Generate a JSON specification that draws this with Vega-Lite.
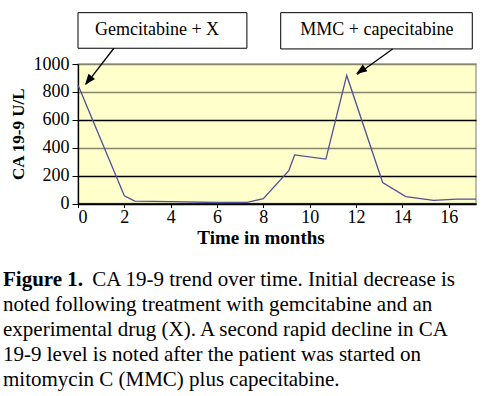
{
  "$schema": "https://vega.github.io/schema/vega-lite/v6.json",
  "width": 398,
  "height": 139.5,
  "autosize": {"type": "none"},
  "padding": {"left": 78, "top": 64, "right": 16, "bottom": 192.5},
  "background": "white",
  "config": {
    "font": "Liberation Serif",
    "view": {"fill": "#FFFFCC", "stroke": "#a6a6a6", "strokeWidth": 1.5}
  },
  "title": {
    "text": "Figure 1.",
    "subtitle": [
      "\u200b\u00a0\u00a0\u00a0\u00a0\u00a0\u00a0\u00a0\u00a0\u00a0\u00a0\u00a0\u00a0\u00a0\u00a0\u00a0\u00a0\u00a0CA 19-9 trend over time. Initial decrease is",
      "noted following treatment with gemcitabine and an",
      "experimental drug (X). A second rapid decline in CA",
      "19-9 level is noted after the patient was started on",
      "mitomycin C (MMC) plus capecitabine."
    ],
    "orient": "bottom",
    "anchor": "start",
    "frame": "group",
    "dx": -75,
    "offset": 21,
    "font": "Liberation Serif",
    "fontSize": 21,
    "fontWeight": "bold",
    "color": "black",
    "subtitleFont": "Liberation Serif",
    "subtitleFontSize": 21,
    "subtitleFontWeight": "normal",
    "subtitleColor": "black",
    "subtitleLineHeight": 25,
    "subtitlePadding": -21
  },
  "layer": [
    {
      "data": {"values": [
        {"month": 0, "ca199": 850},
        {"month": 2, "ca199": 55},
        {"month": 2.45, "ca199": 17},
        {"month": 4, "ca199": 13},
        {"month": 6, "ca199": 7},
        {"month": 7.3, "ca199": 8},
        {"month": 8, "ca199": 35},
        {"month": 9.1, "ca199": 235},
        {"month": 9.35, "ca199": 348},
        {"month": 10.7, "ca199": 318},
        {"month": 11.6, "ca199": 918},
        {"month": 13.15, "ca199": 150},
        {"month": 14.15, "ca199": 50},
        {"month": 15.35, "ca199": 22},
        {"month": 16.35, "ca199": 32},
        {"month": 17.18, "ca199": 32}
      ]},
      "mark": {"type": "line", "color": "#50509a", "strokeWidth": 1.3},
      "encoding": {
        "x": {
          "field": "month", "type": "quantitative",
          "scale": {"domain": [0, 17.18], "nice": false, "zero": false},
          "axis": {
            "values": [0, 2, 4, 6, 8, 10, 12, 14, 16],
            "tickCount": 20,
            "grid": false,
            "labelOverlap": false,
            "domainColor": "black", "domainWidth": 1.3,
            "tickColor": "black", "tickSize": 4,
            "labelFont": "Liberation Serif", "labelFontSize": 18, "labelColor": "black", "labelPadding": 1,
            "title": "Time in months",
            "titleFont": "Liberation Serif", "titleFontSize": 19, "titleFontWeight": "bold", "titleColor": "black",
            "titleX": 182.5, "titlePadding": 2
          }
        },
        "y": {
          "field": "ca199", "type": "quantitative",
          "scale": {"domain": [0, 1000], "nice": false},
          "axis": {
            "values": [0, 200, 400, 600, 800, 1000],
            "tickCount": 20,
            "format": "d",
            "grid": true,
            "labelOverlap": false,
            "gridColor": {"condition": {"test": "datum.value === 200 || datum.value === 600 || datum.value === 0", "value": "black"}, "value": "#85856a"},
            "gridWidth": 1.3,
            "domainColor": "black", "domainWidth": 1.3,
            "tickColor": "black", "tickSize": 6,
            "labelFont": "Liberation Serif", "labelFontSize": 18, "labelColor": "black", "labelPadding": 3,
            "title": "CA 19-9 U/L",
            "titleFont": "Liberation Serif", "titleFontSize": 17, "titleFontWeight": "bold", "titleColor": "black",
            "titlePadding": 6
          }
        }
      }
    },
    {
      "data": {"values": [
        {"month": 0, "month2": 7.29, "ca199": 1113, "ca2": 1368},
        {"month": 8.75, "month2": 17.02, "ca199": 1108, "ca2": 1368}
      ]},
      "mark": {"type": "rect", "fill": "white", "stroke": "black", "strokeWidth": 1},
      "encoding": {
        "x": {"field": "month", "type": "quantitative"},
        "x2": {"field": "month2"},
        "y": {"field": "ca199", "type": "quantitative"},
        "y2": {"field": "ca2"}
      }
    },
    {
      "data": {"values": [
        {"month": 3.41, "ca199": 1244, "label": "Gemcitabine + X"},
        {"month": 12.9, "ca199": 1244, "label": "MMC + capecitabine"}
      ]},
      "mark": {"type": "text", "font": "Liberation Serif", "fontSize": 18, "color": "black", "align": "center", "baseline": "middle"},
      "encoding": {
        "x": {"field": "month", "type": "quantitative"},
        "y": {"field": "ca199", "type": "quantitative"},
        "text": {"field": "label"}
      }
    },
    {
      "data": {"values": [
        {"month": 1.55, "ca199": 1113, "month2": 0.35, "ca2": 855},
        {"month": 13.58, "ca199": 1108, "month2": 12.05, "ca2": 925}
      ]},
      "mark": {"type": "rule", "color": "black", "strokeWidth": 1.3},
      "encoding": {
        "x": {"field": "month", "type": "quantitative"},
        "x2": {"field": "month2"},
        "y": {"field": "ca199", "type": "quantitative"},
        "y2": {"field": "ca2"}
      }
    },
    {
      "data": {"values": [{"month": 0.3, "ca199": 849}]},
      "mark": {"type": "point", "shape": "M0,0L-0.75,2L0.75,2Z", "filled": true, "color": "black", "opacity": 1, "size": 121, "angle": 218},
      "encoding": {
        "x": {"field": "month", "type": "quantitative"},
        "y": {"field": "ca199", "type": "quantitative"}
      }
    },
    {
      "data": {"values": [{"month": 12.0, "ca199": 928}]},
      "mark": {"type": "point", "shape": "M0,0L-0.75,2L0.75,2Z", "filled": true, "color": "black", "opacity": 1, "size": 121, "angle": 235.7},
      "encoding": {
        "x": {"field": "month", "type": "quantitative"},
        "y": {"field": "ca199", "type": "quantitative"}
      }
    }
  ]
}
